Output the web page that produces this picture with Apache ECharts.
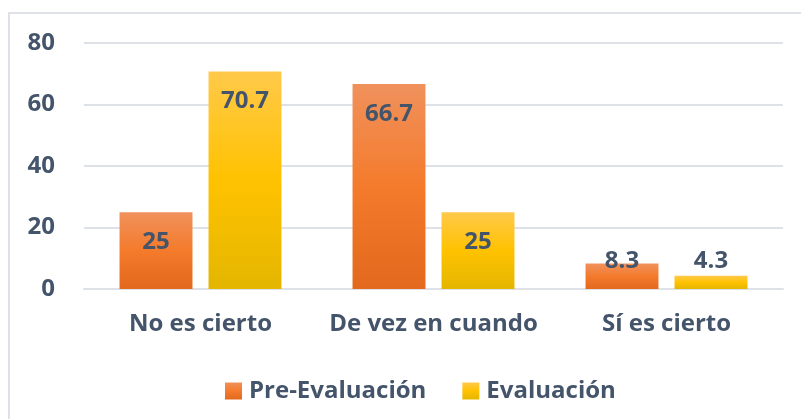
<!DOCTYPE html>
<html>
<head>
<meta charset="utf-8">
<script src="https://cdn.jsdelivr.net/npm/echarts@6/dist/echarts.min.js"></script>
<style>html,body{margin:0;padding:0;background:#fff;}#c{width:801px;height:419px;}</style>
</head>
<body>
<div id="c"></div>
<script>
const categories = ['No es cierto', 'De vez en cuando', 'Sí es cierto'];
const seriesNames = ['Pre-Evaluación', 'Evaluación'];
const preValues = [25, 66.7, 8.3];
const evalValues = [70.7, 25, 4.3];
const yTicks = { min: 0, max: 80, interval: 20 };

const txt = '#44546A';
const font = '"Open Sans", "DejaVu Sans", sans-serif';

function grad(top, mid, bot) {
  return new echarts.graphic.LinearGradient(0, 0, 0, 1, [
    { offset: 0, color: top }, { offset: 0.5, color: mid }, { offset: 1, color: bot }
  ]);
}
const orange = grad('#F0915C', '#F47B2C', '#E2691D');
const yellow = grad('#FFC94A', '#FFC200', '#E4B600');

function buildData(vals) {
  return vals.map(v => v < 15
    ? { value: v, label: { position: 'insideBottom', distance: 15 } }
    : { value: v });
}

const labelCfg = {
  show: true, position: 'insideTop', distance: 17,
  color: txt, fontFamily: font, fontWeight: 'bold', fontSize: 24, lineHeight: 26
};

const chart = echarts.init(document.getElementById('c'), null, { renderer: 'canvas' });
chart.setOption({
  animation: false,
  backgroundColor: '#fff',
  graphic: [{
    type: 'rect', silent: true, z: -1,
    shape: { x: 9, y: 13, width: 900, height: 500 },
    style: { fill: 'none', stroke: '#DEE2E8', lineWidth: 2 }
  }],
  grid: { left: 84, right: 18, top: 43, bottom: 130 },
  legend: {
    data: seriesNames, left: 220, top: 374, icon: 'rect',
    itemWidth: 17, itemHeight: 17, itemGap: 36,
    textStyle: { color: txt, fontFamily: font, fontWeight: 'bold', fontSize: 24, padding: [0, 0, 0, 2] }
  },
  xAxis: {
    type: 'category', data: categories,
    axisLine: { show: true, lineStyle: { color: '#DEE2E8', width: 2 } },
    axisTick: { show: false },
    axisLabel: { color: txt, fontFamily: font, fontWeight: 'bold', fontSize: 24, margin: 23, interval: 0, hideOverlap: false }
  },
  yAxis: {
    type: 'value', min: yTicks.min, max: yTicks.max, interval: yTicks.interval,
    axisLine: { show: false }, axisTick: { show: false },
    splitLine: { lineStyle: { color: '#DEE2E8', width: 2 } },
    axisLabel: { color: txt, fontFamily: font, fontWeight: 'bold', fontSize: 24, margin: 29 }
  },
  series: [
    { name: seriesNames[0], type: 'bar', data: buildData(preValues), barGap: '22%', barCategoryGap: '30.5%',
      itemStyle: { color: orange }, label: labelCfg },
    { name: seriesNames[1], type: 'bar', data: buildData(evalValues), barGap: '22%', barCategoryGap: '30.5%',
      itemStyle: { color: yellow }, label: labelCfg }
  ]
});
</script>
</body>
</html>
